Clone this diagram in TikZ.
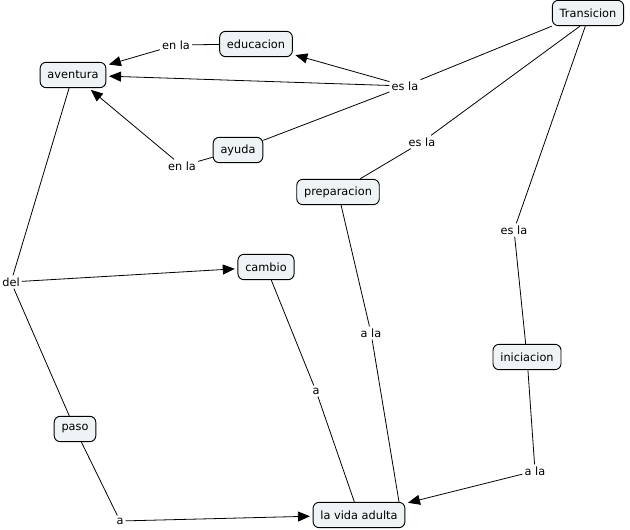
\documentclass[tikz,border=0pt]{standalone}
\usepackage{fontspec}
\setmainfont{DejaVu Sans}
\usetikzlibrary{arrows.meta}
\definecolor{cfill}{HTML}{EEF3F6}
\tikzset{
  concept/.style={draw=black, fill=cfill, rounded corners=4.5pt, line width=0.7pt,
    inner xsep=5.5pt, minimum height=19pt, font=\fontsize{8.5}{10}\selectfont},
  lbl/.style={inner sep=1.5pt, font=\fontsize{8.5}{10}\selectfont},
  link/.style={line width=0.6pt},
  arr/.style={link, shorten >=2pt, -{Triangle[length=9pt,width=7.5pt]}}
}
\begin{document}
\begin{tikzpicture}[x=0.75pt,y=-0.75pt]
\useasboundingbox (0,0) rectangle (630,530);
% concepts
\node[concept] (trans) at (588,13) {Transicion};
\node[concept] (edu) at (256,44) {educacion};
\node[concept] (avent) at (73,75) {aventura};
\node[concept] (ayuda) at (238,150) {ayuda};
\node[concept] (prep) at (338,192) {preparacion};
\node[concept] (cambio) at (266,267) {cambio};
\node[concept] (inic) at (527,357) {iniciacion};
\node[concept] (paso) at (75,429) {paso};
\node[concept] (vida) at (359,515) {la vida adulta};
% linking phrases
\node[lbl] (enla1) at (176,45) {en la};
\node[lbl] (esla1) at (405,86) {es la};
\node[lbl] (enla2) at (182,166) {en la};
\node[lbl] (esla2) at (422,142) {es la};
\node[lbl] (del) at (11,282) {del};
\node[lbl] (ala1) at (371,333) {a la};
\node[lbl] (esla3) at (514,230) {es la};
\node[lbl] (a1) at (316,391) {a};
\node[lbl] (ala2) at (535,471) {a la};
\node[lbl] (a2) at (120,521) {a};
% connectors
\draw[link] (trans.south west) -- (esla1);
\draw[arr] (esla1) -- (edu);
\draw[arr] (esla1) -- (avent);
\draw[link] (esla1) -- (ayuda);
\draw[link] (edu) -- (enla1);
\draw[arr] (enla1) -- (avent);
\draw[link] (ayuda) -- (enla2);
\draw[arr] (enla2) -- (avent);
\draw[link] ([xshift=-6pt]trans.south) -- (esla2);
\draw[link] (esla2) -- (prep);
\draw[link] ([xshift=-2pt]trans.south) -- (esla3);
\draw[link] (esla3) -- (inic);
\draw[link] (avent) -- (del);
\draw[arr] (del) -- (cambio);
\draw[link] (del) -- (paso);
\draw[link] (paso) -- (a2);
\draw[arr] (a2) -- (vida);
\draw[link] (cambio) -- (a1);
\draw[link] (a1) -- ([xshift=-3.5pt]vida.north);
\draw[link] (prep) -- (ala1);
\draw[link] (ala1) -- ([xshift=30pt]vida.north);
\draw[link] (inic) -- (ala2);
\draw[arr] (ala2) -- (vida);
\end{tikzpicture}
\end{document}
